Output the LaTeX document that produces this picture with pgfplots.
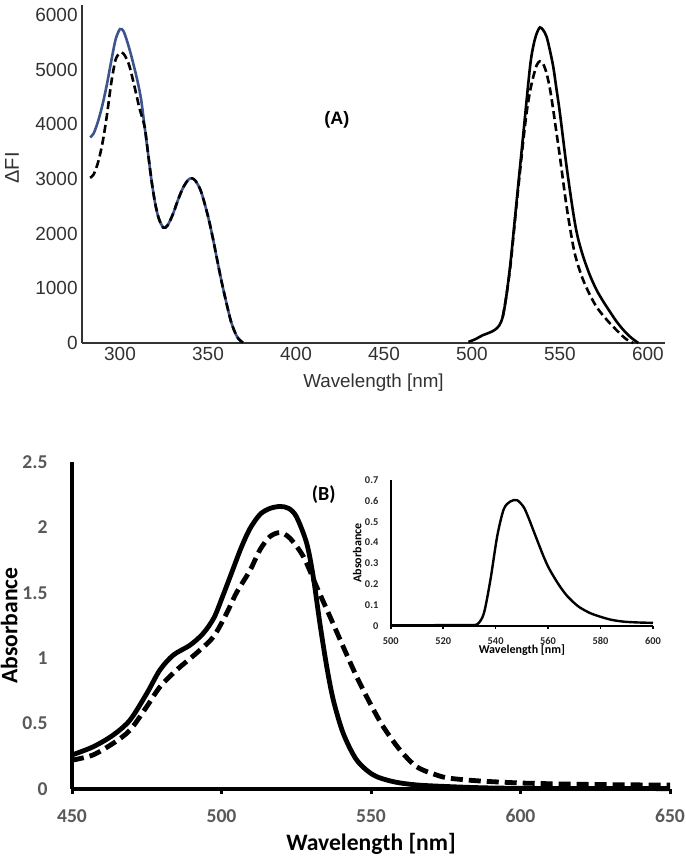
\documentclass[border=0pt]{standalone}
\usepackage{fontspec}
\setmainfont{Liberation Sans}
\newfontfamily\carlito{Carlito}
\usepackage{pgfplots}
\pgfplotsset{compat=1.18}
\definecolor{abl}{RGB}{62,84,140}
\definecolor{tickgray}{RGB}{89,89,89}
\definecolor{agray}{RGB}{50,50,50}

\begin{document}
\begin{tikzpicture}
\useasboundingbox (0,0) rectangle (342.5pt,428pt);

% ---------------- Panel A ----------------
\begin{axis}[
  at={(41pt,256.5pt)}, anchor=south west,
  scale only axis, width=291.5pt, height=169pt,
  xmin=278.4, xmax=609.7, ymin=0, ymax=6180,
  axis x line*=bottom, axis y line*=left,
  axis line style={draw=agray, line width=0.8pt},
  xtick={300,350,...,600}, ytick={0,1000,...,6000},
  major tick length=0pt,
  tick label style={font=\fontsize{9.5}{11}\selectfont, text=agray, inner sep=0pt},
  xticklabel style={anchor=north, yshift=-2pt},
  yticklabel style={anchor=east, xshift=-2pt},
  /pgf/number format/assume math mode=true,
  /pgf/number format/1000 sep={},
  scaled ticks=false,
  xlabel={Wavelength [nm]},
  ylabel={ΔFI},
  xlabel style={at={(axis description cs:0.5,-0.118)}, anchor=center, font=\fontsize{9.4}{11}\selectfont, text=agray, inner sep=0pt},
  ylabel style={at={(axis description cs:-0.12,0.518)}, anchor=center, font=\fontsize{10}{12}\selectfont, text=agray, inner sep=0pt},
  clip=false,
]
\addplot[abl, line width=1.3pt, smooth] coordinates {
(283,3760) (285,3830) (287.5,4050) (290,4350) (292.5,4720) (295,5150) (297.5,5550)
(300,5740) (302,5700) (304,5520) (306,5300) (308,5050) (310,4780) (312,4450) (314,3950)
(316,3450) (318,2950) (320,2550) (322,2280) (324.6,2110) (327,2150) (330,2350) (333,2620)
(336,2850) (339,2990) (341,3010) (343,2960) (345.7,2800) (348,2560) (350.5,2250) (353,1880)
(355.2,1520) (358,1080) (361,660) (363,400) (365,220) (367,90) (370,0)
};
\addplot[black, line width=1.3pt, dash pattern=on 4pt off 2pt, smooth] coordinates {
(283,3020) (285,3080) (287.5,3300) (290,3650) (292.5,4150) (295,4750) (297.5,5180)
(300,5300) (302,5290) (305,5100) (308,4720) (311,4300) (314,3950)
(316,3450) (318,2950) (320,2550) (322,2280) (324.6,2110) (327,2150) (330,2350) (333,2620)
(336,2850) (339,2990) (341,3010) (343,2960) (345.7,2800) (348,2560) (350.5,2250) (353,1880)
(355.2,1520) (358,1080) (361,660) (363,400) (365,220) (367,90) (370,0)
};
\addplot[black, line width=1.3pt, smooth] coordinates {
(498,20) (502,70) (506,140) (510,190) (513,240) (515.5,320) (517.5,480) (519.5,850)
(522,1500) (525.4,2600) (529.2,3830) (533,5050) (535,5450) (536.8,5660) (538.6,5770)
(540.5,5720) (542.4,5600) (544.3,5350) (546.2,5050) (548,4650) (550,4200) (553.8,3220)
(557.6,2370) (560,1950) (563.2,1580) (567,1240) (570.8,970) (574.6,760) (578.4,572)
(582,400) (586,240) (590,110) (594.5,0)
};
\addplot[black, line width=1.3pt, dash pattern=on 4pt off 2pt, smooth] coordinates {
(517.5,480) (519.5,850) (522,1450) (525.4,2550) (529,3650) (531,4200) (533,4600)
(534.8,4860) (536.8,5080) (538.6,5150) (540.5,5100) (542.4,4930) (544.3,4650) (546.2,4260)
(548,3850) (550,3400) (553.8,2490) (557.6,1760) (560,1450) (563.2,1150) (567,880)
(570.8,660) (574.6,500) (578.4,360) (582,240) (586,115) (589,40) (591.7,0)
};
\node[font=\bfseries\fontsize{9}{11}\selectfont, text=black] at (axis description cs:0.437,0.66) {(A)};
\end{axis}

% ---------------- Panel B ----------------
\begin{axis}[
  at={(36pt,33.5pt)}, anchor=south west,
  scale only axis, width=299pt, height=163.5pt,
  xmin=450, xmax=650, ymin=0, ymax=2.5,
  axis x line*=bottom, axis y line*=left,
  axis line style={draw=black, line width=2pt},
  xtick={450,500,...,650}, ytick={0,0.5,1,1.5,2,2.5},
  tick align=outside, major tick length=2.5pt,
  xtick style={line width=1.5pt, black},
  ytick style={draw=none},
  tick label style={font=\carlito\bfseries\fontsize{9.8}{12}\selectfont, text=tickgray, inner sep=0pt},
  xticklabel style={anchor=north, yshift=-7.5pt},
  yticklabel style={anchor=east, xshift=-9.5pt},
  /pgf/number format/assume math mode=true,
  xlabel={Wavelength [nm]},
  ylabel={Absorbance},
  xlabel style={at={(axis description cs:0.5,-0.168)}, anchor=center, font=\carlito\bfseries\fontsize{11.8}{14}\selectfont, inner sep=0pt},
  ylabel style={at={(axis description cs:-0.105,0.5)}, anchor=center, font=\carlito\bfseries\fontsize{11.8}{14}\selectfont, inner sep=0pt},
  clip=false,
]
\addplot[black, line width=2.4pt, smooth] coordinates {
(450,0.26) (457.1,0.323) (463.8,0.413) (469.4,0.527) (475,0.73) (479.4,0.91) (483.9,1.024)
(489.5,1.10) (493.9,1.19) (497.5,1.31) (500.5,1.48) (503.5,1.66) (506.5,1.84) (509.5,1.99)
(512.9,2.10) (516.2,2.145) (519.6,2.16) (522.5,2.145) (525.1,2.08) (528.5,1.878) (530.7,1.62)
(532.9,1.267) (535.2,0.935) (537.4,0.68) (540.7,0.426) (545.2,0.222) (550.8,0.107)
(557.5,0.056) (565.3,0.031) (576.4,0.018) (590,0.008) (610,0.004) (650,0.003)
};
\addplot[black, line width=2.4pt, dash pattern=on 6pt off 3pt, smooth] coordinates {
(450,0.22) (457,0.26) (463.8,0.35) (469.4,0.45) (475,0.63) (479.4,0.78) (485,0.91)
(491.7,1.04) (497.3,1.164) (501.7,1.343) (505,1.50) (509.5,1.67) (512.9,1.83) (516.2,1.93)
(519.6,1.96) (522.9,1.917) (527.4,1.776) (531.8,1.547) (536.3,1.317) (540.7,1.088)
(545.2,0.859) (549.7,0.655) (554.1,0.476) (559.7,0.298) (565.3,0.17) (571.9,0.107)
(576.4,0.082) (586,0.062) (600,0.046) (615,0.038) (630,0.033) (650,0.03)
};
\node[font=\carlito\bfseries\fontsize{10}{12}\selectfont] at (axis description cs:0.421,0.899) {(B)};
\end{axis}

% ---------------- Inset ----------------
\begin{axis}[
  at={(195.35pt,115pt)}, anchor=south west,
  scale only axis, width=131.15pt, height=73pt,
  xmin=500, xmax=600, ymin=0, ymax=0.7,
  axis x line*=bottom, axis y line*=left,
  axis line style={draw=black, line width=1pt},
  xtick={500,520,540,560,580,600}, ytick={0,0.1,0.2,0.3,0.4,0.5,0.6,0.7},
  tick align=outside, major tick length=1.5pt,
  xtick style={line width=0.8pt, black},
  ytick style={draw=none},
  tick label style={font=\carlito\bfseries\fontsize{5.2}{6}\selectfont, text=black!85, inner sep=0pt},
  xticklabel style={anchor=north, yshift=-4pt},
  yticklabel style={anchor=east, xshift=-4.5pt},
  /pgf/number format/assume math mode=true,
  xlabel={Wavelength [nm]},
  ylabel={Absorbance},
  xlabel style={at={(axis description cs:0.5,-0.164)}, anchor=center, font=\carlito\bfseries\fontsize{6}{7}\selectfont, inner sep=0pt},
  ylabel style={at={(axis description cs:-0.128,0.5)}, anchor=center, font=\carlito\bfseries\fontsize{6}{7}\selectfont, inner sep=0pt},
  clip=false,
]
\addplot[black, line width=1.2pt, smooth] coordinates {
(500,0.003) (520,0.004) (530,0.005) (533,0.008) (535.5,0.06) (538,0.22) (540.6,0.43)
(543.1,0.56) (545.6,0.597) (548.2,0.603) (550.7,0.57) (552.5,0.52) (554.5,0.455)
(556.5,0.39) (558.3,0.333) (560,0.285) (562,0.24) (564.5,0.19) (567.2,0.145) (570,0.11)
(572.2,0.088) (576,0.062) (579.8,0.045) (584,0.03) (588.7,0.021) (594,0.017) (600,0.015)
};
\end{axis}
\end{tikzpicture}
\end{document}
